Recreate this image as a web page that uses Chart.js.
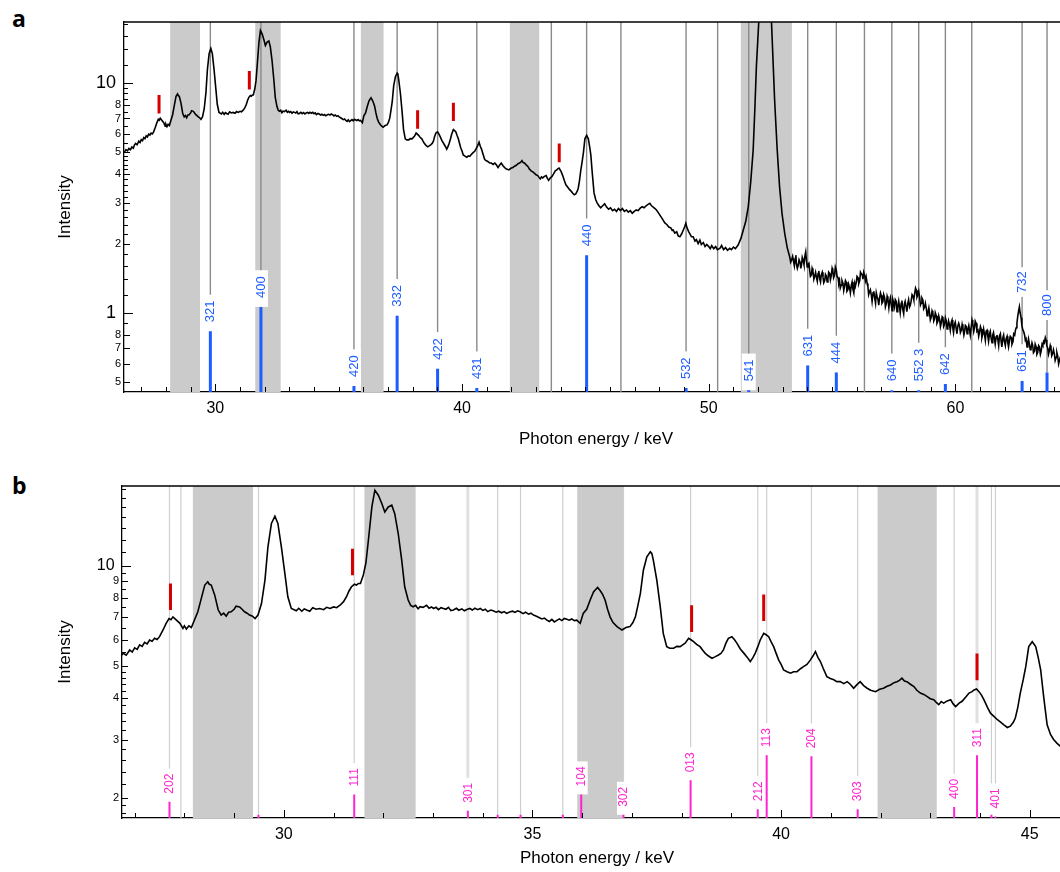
<!DOCTYPE html>
<html>
<head>
<meta charset="utf-8">
<script src="https://cdn.jsdelivr.net/npm/chart.js@4.4.0/dist/chart.umd.min.js"></script>
<style>
  html, body { margin: 0; padding: 0; background: #fff; overflow: hidden; width: 1060px; height: 872px; }
  .wrap { position: absolute; left: 0; width: 1075px; }
  .tag { position: absolute; left: 12px; font: bold 23px "Open Sans", sans-serif; line-height: 1; }
</style>
</head>
<body>
<div class="tag" style="top:7px">a</div>
<div class="tag" style="top:474px">b</div>
<div class="wrap" style="top:0"><canvas id="chartA" width="1075" height="460"></canvas></div>
<div class="wrap" style="top:460px"><canvas id="chartB" width="1075" height="412"></canvas></div>
<script>
const FONT = '"Liberation Sans", Arial, sans-serif';
const BLUE = '#1d5cff';
const MAGENTA = '#ff24cf';

// measured spectrum (keV, intensity)
const energy = [
  26.32, 26.38, 26.44, 26.50, 26.56, 26.62, 26.68, 26.72, 26.77, 26.83,
  26.90, 26.95, 27.00, 27.05, 27.10, 27.15, 27.20, 27.25, 27.30, 27.35,
  27.40, 27.45, 27.50, 27.57, 27.63, 27.69, 27.73, 27.77, 27.84, 27.91,
  27.97, 28.00, 28.04, 28.09, 28.14, 28.20, 28.27, 28.34, 28.41, 28.47,
  28.50, 28.54, 28.61, 28.68, 28.74, 28.79, 28.84, 28.89, 28.94, 29.00,
  29.04, 29.11, 29.16, 29.21, 29.26, 29.31, 29.37, 29.42, 29.48, 29.55,
  29.62, 29.68, 29.75, 29.82, 29.88, 29.95, 30.02, 30.08, 30.15, 30.25,
  30.30, 30.36, 30.41, 30.46, 30.52, 30.58, 30.65, 30.72, 30.80, 30.86,
  30.93, 31.00, 31.06, 31.13, 31.20, 31.26, 31.31, 31.36, 31.42, 31.46,
  31.50, 31.54, 31.60, 31.65, 31.70, 31.77, 31.83, 31.90, 31.97, 32.03,
  32.10, 32.17, 32.23, 32.30, 32.37, 32.43, 32.50, 32.55, 32.60, 32.65,
  32.70, 32.74, 32.80, 32.87, 32.92, 32.97, 33.01, 33.06, 33.11, 33.16,
  33.21, 33.26, 33.31, 33.36, 33.41, 33.47, 33.52, 33.58, 33.63, 33.68,
  33.74, 33.79, 33.84, 33.90, 33.95, 34.00, 34.05, 34.10, 34.16, 34.21,
  34.27, 34.32, 34.38, 34.43, 34.48, 34.54, 34.60, 34.65, 34.70, 34.75,
  34.81, 34.86, 34.92, 34.97, 35.02, 35.08, 35.14, 35.19, 35.24, 35.29,
  35.34, 35.39, 35.44, 35.49, 35.54, 35.59, 35.64, 35.69, 35.74, 35.79,
  35.84, 35.89, 35.96, 36.02, 36.09, 36.16, 36.23, 36.31, 36.36, 36.41,
  36.46, 36.51, 36.56, 36.62, 36.70, 36.75, 36.80, 36.88, 36.96, 37.02,
  37.07, 37.12, 37.17, 37.23, 37.30, 37.37, 37.40, 37.43, 37.50, 37.57,
  37.63, 37.70, 37.76, 37.84, 37.90, 37.97, 38.02, 38.07, 38.14, 38.18,
  38.24, 38.30, 38.37, 38.42, 38.47, 38.54, 38.61, 38.67, 38.74, 38.79,
  38.84, 38.89, 38.94, 39.01, 39.06, 39.11, 39.18, 39.25, 39.32, 39.38,
  39.43, 39.48, 39.53, 39.58, 39.65, 39.70, 39.75, 39.80, 39.85, 39.90,
  39.95, 40.00, 40.05, 40.12, 40.19, 40.25, 40.32, 40.39, 40.45, 40.52,
  40.59, 40.64, 40.69, 40.74, 40.79, 40.85, 40.92, 40.99, 41.06, 41.12,
  41.19, 41.26, 41.33, 41.39, 41.46, 41.52, 41.59, 41.66, 41.73, 41.80,
  41.90, 41.98, 42.06, 42.13, 42.20, 42.27, 42.33, 42.38, 42.43, 42.48,
  42.53, 42.60, 42.67, 42.73, 42.80, 42.87, 42.94, 43.00, 43.07, 43.12,
  43.17, 43.22, 43.27, 43.34, 43.41, 43.46, 43.51, 43.58, 43.64, 43.71,
  43.78, 43.84, 43.88, 43.93, 43.98, 44.03, 44.08, 44.15, 44.21, 44.28,
  44.35, 44.42, 44.48, 44.55, 44.61, 44.67, 44.71, 44.76, 44.81, 44.87,
  44.92, 44.98, 45.05, 45.12, 45.17, 45.22, 45.28, 45.35, 45.42, 45.48,
  45.55, 45.62, 45.70, 45.78, 45.86, 45.94, 46.02, 46.10, 46.18, 46.26,
  46.34, 46.42, 46.50, 46.58, 46.66, 46.74, 46.82, 46.90, 46.98, 47.06,
  47.14, 47.22, 47.30, 47.38, 47.46, 47.54, 47.61, 47.68, 47.75, 47.82,
  47.88, 47.96, 48.04, 48.10, 48.15, 48.22, 48.30, 48.38, 48.46, 48.52,
  48.56, 48.62, 48.70, 48.76, 48.83, 48.90, 48.96, 49.02, 49.07, 49.12,
  49.18, 49.23, 49.30, 49.37, 49.44, 49.50, 49.57, 49.64, 49.70, 49.78,
  49.85, 49.92, 50.00, 50.06, 50.12, 50.20, 50.28, 50.35, 50.45, 50.52,
  50.60, 50.68, 50.76, 50.85, 50.92, 51.00, 51.08, 51.19, 51.30, 51.40,
  51.50, 51.60, 51.70, 51.80, 51.87, 51.93, 52.03, 52.15, 52.27, 52.40,
  52.54, 52.67, 52.77, 52.87, 52.97, 53.08, 53.18,
  53.28, 53.32, 53.36, 53.40, 53.44, 53.47, 53.50, 53.53, 53.55, 53.59,
  53.62, 53.66, 53.70, 53.73, 53.76, 53.79, 53.82, 53.86, 53.89, 53.93,
  53.96, 53.99, 54.02, 54.06, 54.09, 54.12, 54.16, 54.19, 54.22, 54.26,
  54.29, 54.33, 54.36, 54.40, 54.43, 54.46, 54.50, 54.53, 54.56, 54.60,
  54.63, 54.66, 54.70, 54.73, 54.76, 54.80, 54.83, 54.86, 54.90, 54.93,
  54.96, 55.00, 55.03, 55.06, 55.10, 55.13, 55.17, 55.20, 55.24, 55.27,
  55.30, 55.33, 55.37, 55.40, 55.44, 55.47, 55.50, 55.54, 55.57, 55.60,
  55.64, 55.67, 55.71, 55.74, 55.78, 55.81, 55.84, 55.88, 55.91, 55.94,
  55.98, 56.01, 56.05, 56.08, 56.12, 56.15, 56.18, 56.22, 56.25, 56.28,
  56.32, 56.35, 56.38, 56.42, 56.45, 56.48, 56.52, 56.55, 56.59, 56.62,
  56.66, 56.69, 56.72, 56.76, 56.79, 56.82, 56.86, 56.89, 56.92, 56.96,
  56.99, 57.02, 57.06, 57.09, 57.13, 57.16, 57.20, 57.23, 57.26, 57.30,
  57.33, 57.36, 57.40, 57.43, 57.46, 57.50, 57.53, 57.56, 57.60, 57.63,
  57.66, 57.70, 57.73, 57.76, 57.80, 57.83, 57.86, 57.90, 57.93, 57.96,
  58.00, 58.03, 58.07, 58.10, 58.14, 58.17, 58.20, 58.24, 58.28, 58.31,
  58.35, 58.38, 58.41, 58.44, 58.48, 58.51, 58.55, 58.58, 58.61, 58.64,
  58.68, 58.71, 58.75, 58.78, 58.82, 58.85, 58.88, 58.92, 58.95, 58.98,
  59.02, 59.05, 59.08, 59.12, 59.15, 59.18, 59.22, 59.25, 59.29, 59.32,
  59.36, 59.39, 59.42, 59.46, 59.49, 59.52, 59.56, 59.59, 59.63, 59.66,
  59.69, 59.72, 59.76, 59.79, 59.83, 59.86, 59.89, 59.92, 59.96, 59.99,
  60.03, 60.06, 60.10, 60.13, 60.17, 60.20, 60.24, 60.27, 60.30, 60.34,
  60.37, 60.40, 60.44, 60.47, 60.50, 60.54, 60.57, 60.60, 60.64, 60.67,
  60.70, 60.74, 60.77, 60.80, 60.84, 60.87, 60.91, 60.94, 60.97, 61.01,
  61.04, 61.07, 61.11, 61.14, 61.18, 61.21, 61.24, 61.28, 61.31, 61.34,
  61.38, 61.41, 61.44, 61.48, 61.51, 61.54, 61.58, 61.61, 61.65, 61.68,
  61.72, 61.75, 61.78, 61.82, 61.85, 61.88, 61.92, 61.95, 61.98, 62.02,
  62.05, 62.09, 62.12, 62.15, 62.19, 62.22, 62.26, 62.29, 62.33, 62.36,
  62.40, 62.43, 62.46, 62.49, 62.52, 62.56, 62.59, 62.62, 62.66, 62.69,
  62.73, 62.76, 62.80, 62.83, 62.86, 62.90, 62.93, 62.96, 62.99, 63.03,
  63.06, 63.10, 63.13, 63.16, 63.20, 63.23, 63.27, 63.30, 63.33, 63.37,
  63.40, 63.44, 63.47, 63.51, 63.54, 63.57, 63.60, 63.64, 63.67, 63.70,
  63.74, 63.77, 63.80, 63.84, 63.87, 63.90, 63.94, 63.97, 64.01, 64.04,
  64.08, 64.11, 64.14, 64.18, 64.21, 64.25, 64.28, 64.32, 64.35, 64.39,
  64.42, 64.46, 64.50, 64.55, 64.60
];
const intensity = [
  5.00, 5.12, 5.06, 5.18, 5.12, 5.26, 5.20, 5.36, 5.45, 5.38,
  5.58, 5.50, 5.66, 5.60, 5.78, 5.72, 5.88, 5.82, 5.98, 5.93,
  6.05, 6.00, 6.12, 6.41, 6.70, 6.94, 6.88, 7.02, 6.86, 6.71,
  6.48, 6.60, 6.45, 6.60, 6.52, 6.86, 7.27, 7.98, 8.75, 8.95,
  8.80, 8.75, 8.16, 7.36, 7.11, 7.20, 7.05, 7.25, 7.27, 7.40,
  7.56, 7.52, 7.40, 7.27, 7.20, 7.11, 7.05, 6.94, 7.11, 7.70,
  9.06, 11.41, 13.41, 14.11, 13.41, 11.41, 9.49, 8.07, 7.44, 7.32,
  7.45, 7.30, 7.42, 7.36, 7.30, 7.48, 7.40, 7.44, 7.38, 7.50,
  7.44, 7.52, 7.48, 7.61, 7.80, 8.07, 8.40, 8.65, 8.80, 8.75,
  8.85, 8.85, 9.40, 10.2, 11.94, 15.04, 16.89, 16.31, 15.40, 14.53,
  15.04, 15.22, 14.36, 12.51, 10.40, 8.65, 7.89, 7.60, 7.53, 7.60,
  7.42, 7.53, 7.50, 7.61, 7.45, 7.52, 7.44, 7.50, 7.38, 7.48,
  7.44, 7.40, 7.50, 7.33, 7.36, 7.45, 7.35, 7.42, 7.32, 7.39,
  7.44, 7.36, 7.45, 7.38, 7.44, 7.34, 7.40, 7.28, 7.36, 7.32,
  7.25, 7.30, 7.22, 7.28, 7.19, 7.26, 7.30, 7.24, 7.32, 7.27,
  7.18, 7.25, 7.15, 7.20, 7.11, 7.05, 6.98, 6.92, 6.96, 6.86,
  6.80, 6.90, 6.78, 6.85, 6.92, 6.84, 6.94, 6.90, 6.86, 6.92,
  6.84, 6.86, 6.71, 7.19, 7.40, 7.89, 8.36, 8.61, 8.43, 8.20,
  7.89, 7.40, 7.02, 6.75, 6.56, 6.48, 6.41, 6.52, 6.56, 6.75,
  7.02, 7.60, 8.26, 9.70, 10.64, 11.02, 10.90, 10.40, 9.06, 7.52,
  6.26, 5.71, 5.65, 5.65, 5.72, 5.71, 5.78, 5.85, 6.05, 6.00,
  5.91, 5.80, 5.71, 5.58, 5.46, 5.35, 5.27, 5.32, 5.39, 5.45,
  5.58, 5.85, 6.05, 6.12, 6.00, 5.85, 5.62, 5.46, 5.30, 5.15,
  5.28, 5.46, 5.70, 5.98, 6.26, 6.20, 6.12, 5.90, 5.71, 5.45,
  5.21, 5.05, 4.86, 4.80, 4.75, 4.80, 4.80, 4.90, 4.97, 5.05,
  5.21, 5.35, 5.52, 5.30, 5.15, 4.90, 4.64, 4.58, 4.54, 4.48,
  4.48, 4.42, 4.48, 4.40, 4.28, 4.38, 4.48, 4.36, 4.28, 4.22,
  4.18, 4.25, 4.28, 4.34, 4.38, 4.45, 4.48, 4.52, 4.59, 4.50,
  4.48, 4.40, 4.33, 4.22, 4.14, 4.10, 4.04, 3.98, 3.95, 3.88,
  3.82, 3.90, 3.86, 3.92, 3.95, 3.84, 3.77, 3.86, 3.91, 4.02,
  4.14, 4.18, 4.23, 4.26, 4.18, 4.08, 3.95, 3.75, 3.60, 3.52,
  3.44, 3.38, 3.32, 3.26, 3.29, 3.38, 3.48, 3.75, 4.14, 4.55,
  4.97, 5.71, 5.91, 5.71, 5.30, 4.86, 4.04, 3.32, 3.10, 3.00,
  2.92, 2.86, 2.92, 2.98, 2.88, 2.82, 2.86, 2.78, 2.82, 2.76,
  2.84, 2.78, 2.84, 2.76, 2.80, 2.74, 2.78, 2.71, 2.76, 2.80,
  2.78, 2.85, 2.89, 2.86, 2.92, 2.96, 2.99, 2.92, 2.88, 2.84,
  2.80, 2.72, 2.64, 2.58, 2.53, 2.46, 2.42, 2.36, 2.34, 2.28,
  2.29, 2.22, 2.25, 2.16, 2.14, 2.20, 2.28, 2.36, 2.45, 2.34,
  2.26, 2.21, 2.14, 2.14, 2.05, 2.08, 2.00, 2.07, 1.98, 2.02,
  1.94, 1.98, 1.94, 1.90, 1.96, 1.90, 1.94, 1.88, 1.905, 1.96,
  1.88, 1.92, 1.87, 1.905, 1.88, 1.93, 1.90, 1.97, 2.10, 2.29,
  2.50, 2.89, 3.70, 5.10, 7.80, 11.74, 18.7, 30, 36, 30,
  18.7, 8.41, 5.20, 3.53, 2.70, 2.21, 1.92,
  1.75, 1.66, 1.70, 1.76, 1.66, 1.60, 1.72, 1.78, 1.64, 1.56,
  1.60, 1.70, 1.66, 1.56, 1.62, 1.74, 1.70, 1.62, 1.75, 1.84,
  1.68, 1.58, 1.62, 1.64, 1.53, 1.44, 1.46, 1.56, 1.52, 1.40,
  1.44, 1.50, 1.43, 1.37, 1.48, 1.52, 1.40, 1.36, 1.46, 1.50,
  1.43, 1.35, 1.38, 1.47, 1.45, 1.36, 1.40, 1.50, 1.48, 1.39,
  1.44, 1.56, 1.52, 1.42, 1.46, 1.58, 1.53, 1.44, 1.42, 1.34,
  1.38, 1.28, 1.32, 1.38, 1.34, 1.25, 1.30, 1.38, 1.36, 1.24,
  1.26, 1.33, 1.28, 1.22, 1.32, 1.36, 1.27, 1.22, 1.34, 1.30,
  1.36, 1.44, 1.42, 1.34, 1.38, 1.50, 1.48, 1.46, 1.40, 1.50,
  1.45, 1.38, 1.43, 1.34, 1.30, 1.20, 1.24, 1.26, 1.19, 1.12,
  1.22, 1.24, 1.17, 1.10, 1.22, 1.18, 1.14, 1.08, 1.155, 1.22,
  1.19, 1.10, 1.12, 1.20, 1.16, 1.06, 1.10, 1.18, 1.15, 1.05,
  1.12, 1.16, 1.08, 1.02, 1.14, 1.10, 1.06, 1.14, 1.12, 1.01,
  1.05, 1.12, 1.06, 1.00, 1.10, 1.13, 1.04, 0.99, 1.09, 1.12,
  1.06, 1.01, 1.10, 1.14, 1.06, 1.08, 1.12, 1.20, 1.18, 1.14,
  1.22, 1.28, 1.255, 1.17, 1.20, 1.24, 1.16, 1.08, 1.10, 1.16,
  1.135, 1.04, 1.06, 1.10, 1.04, 0.97, 1.00, 1.05, 0.994, 0.93,
  0.96, 1.02, 1.00, 0.92, 0.94, 1.00, 0.97, 0.90, 0.92, 0.97,
  0.93, 0.87, 0.90, 0.96, 0.95, 0.87, 0.89, 0.95, 0.92, 0.85,
  0.87, 0.92, 0.884, 0.84, 0.91, 0.93, 0.86, 0.82, 0.89, 0.91,
  0.85, 0.81, 0.88, 0.90, 0.87, 0.82, 0.84, 0.89, 0.86, 0.80,
  0.83, 0.88, 0.87, 0.81, 0.84, 0.88, 0.841, 0.80, 0.87, 0.93,
  0.899, 0.83, 0.86, 0.92, 0.899, 0.83, 0.84, 0.79, 0.82, 0.87,
  0.85, 0.78, 0.814, 0.85, 0.80, 0.76, 0.83, 0.84, 0.79, 0.75,
  0.81, 0.83, 0.78, 0.74, 0.80, 0.82, 0.77, 0.73, 0.786, 0.80,
  0.76, 0.72, 0.79, 0.81, 0.75, 0.71, 0.78, 0.80, 0.75, 0.72,
  0.77, 0.79, 0.74, 0.71, 0.761, 0.79, 0.78, 0.73, 0.75, 0.81,
  0.80, 0.84, 0.86, 0.90, 0.96, 1.02, 1.06, 1.00, 0.95, 0.88,
  0.841, 0.83, 0.80, 0.76, 0.77, 0.71, 0.74, 0.77, 0.736, 0.69,
  0.70, 0.74, 0.72, 0.67, 0.68, 0.73, 0.71, 0.66, 0.67, 0.72,
  0.711, 0.66, 0.68, 0.73, 0.72, 0.75, 0.74, 0.78, 0.761, 0.72,
  0.70, 0.66, 0.68, 0.72, 0.70, 0.65, 0.666, 0.69, 0.66, 0.62,
  0.64, 0.67, 0.65, 0.60, 0.62, 0.64, 0.61, 0.59, 0.63, 0.65,
  0.60, 0.58, 0.62, 0.59, 0.60
];

// shaded energy windows (keV)
const bands = [[28.17, 29.38], [31.62, 32.65], [35.90, 36.82], [41.94, 43.13], [51.30, 53.37]];

// red markers: energy, lower / upper intensity
const markE = [27.72, 31.38, 38.20, 39.65, 43.94];
const markLo = [7.36, 9.36, 6.32, 6.82, 4.52];
const markHi = [8.85, 11.25, 7.61, 8.20, 5.45];

// panel a reflections
const hklA = ['321', '400', '420', '332', '422', '431', '440', '532', '541', '631', '444', '640', '552 3', '642', '651', '732', '800'];
const posA = [29.80, 31.85, 35.62, 37.37, 39.01, 40.60, 45.05, 49.08, 51.62, 54.01, 55.17, 57.42, 58.51, 59.59, 62.70, 62.70, 63.71];
const barA = [0.83, 1.06, 0.48, 0.97, 0.57, 0.47, 1.78, 0.47, 0.46, 0.59, 0.55, 0.46, 0.46, 0.49, 0.505, 0.505, 0.55];
const labelAtA = [null, null, null, null, null, null, null, null, null, null, null, null, null, null, null, 1.22, 0.968];
const plainA = [43.62, 46.44, 50.36, 56.31, 60.66];

// panel b reflections
const hklB = ['202', '111', '301', '104', '302', '013', '212', '113', '204', '303', '400', '311', '401'];
const posB = [27.70, 31.415, 33.70, 35.98, 36.83, 38.18, 39.53, 39.71, 40.61, 41.54, 43.48, 43.94, 44.31];
const barB = [1.95, 2.05, 1.83, 2.05, 1.78, 2.26, 1.85, 2.69, 2.67, 1.85, 1.88, 2.69, 1.76];
const thickB = ['301', '311'];
const plainB = [27.93, 29.49, 34.30, 34.76, 35.61, 44.23];
const stubB = [29.49, 34.30, 34.76, 35.61, 44.23];
const stubValB = 1.78;

// ticks
const xTicksA = [27, 28, 29, 30, 31, 32, 33, 34, 35, 36, 37, 38, 39, 40, 41, 42, 43, 44, 45, 46,
  47, 48, 49, 50, 51, 52, 53, 54, 55, 56, 57, 58, 59, 60, 61, 62, 63, 64];
const xTicksB = [27, 28, 29, 30, 31, 32, 33, 34, 35, 36, 37, 38, 39, 40, 41, 42, 43, 44, 45];
const yTicksA = [0.5, 0.6, 0.7, 0.8, 0.9, 1, 1.2, 1.4, 1.6, 1.8, 2, 2.2, 2.4, 2.6, 2.8, 3, 3.2, 3.4, 3.6, 3.8,
  4, 4.2, 4.4, 4.6, 4.8, 5, 5.5, 6, 6.5, 7, 7.5, 8, 8.5, 9, 9.5, 10, 12, 14, 16, 18];
const yLabValA = [0.5, 0.6, 0.7, 0.8, 1, 2, 3, 4, 5, 6, 7, 8, 10];
const yLabTxtA = ['5', '6', '7', '8', '1', '2', '3', '4', '5', '6', '7', '8', '10'];
const yTicksB = [1.8, 1.9, 2, 2.2, 2.4, 2.6, 2.8, 3, 3.2, 3.4, 3.6, 3.8, 4, 4.2, 4.4, 4.6, 4.8,
  5, 5.5, 6, 6.5, 7, 7.5, 8, 8.5, 9, 9.5, 10, 11, 12, 13, 14, 15, 16, 17];
const yLabValB = [2, 3, 4, 5, 6, 7, 8, 9, 10];
const yLabTxtB = ['2', '3', '4', '5', '6', '7', '8', '9', '10'];

function segs(xs, lo, hi) {
  const out = [];
  xs.forEach((x, i) => {
    out.push({ x, y: Array.isArray(lo) ? lo[i] : lo });
    out.push({ x, y: Array.isArray(hi) ? hi[i] : hi });
    out.push({ x, y: null });
  });
  return out;
}

function decor(o) {
  return {
    id: 'decor',
    beforeDatasetsDraw(chart) {
      const { ctx, chartArea: a, scales: { x } } = chart;
      ctx.save();
      ctx.fillStyle = '#cbcbcb';
      bands.forEach(([b0, b1]) => {
        const x0 = x.getPixelForValue(b0), x1 = x.getPixelForValue(b1);
        ctx.fillRect(x0, a.top, x1 - x0, a.bottom - a.top);
      });
      ctx.restore();
    },
    afterDatasetDraw(chart, args) {
      if (args.index !== 3) return;
      const { ctx, scales: { x, y } } = chart;
      ctx.font = o.labelSize + 'px ' + FONT;
      o.hkl.forEach((t, i) => {
        const px = x.getPixelForValue(o.pos[i]);
        const barTop = y.getPixelForValue(o.bar[i]);
        const w = ctx.measureText(t).width;
        const at = o.labelAt ? o.labelAt[i] : null;
        let bottom, boxTop, boxBottom;
        if (at != null) {
          bottom = y.getPixelForValue(at);
          boxTop = bottom - w - 4;
          boxBottom = bottom + 4;
        } else {
          bottom = barTop - o.gapBelow;
          boxTop = bottom - w - o.gapAbove;
          boxBottom = barTop;
        }
        ctx.save();
        ctx.fillStyle = '#fff';
        ctx.fillRect(px - o.boxW / 2, boxTop, o.boxW, boxBottom - boxTop);
        ctx.fillStyle = o.color;
        ctx.translate(px + 0.5, bottom);
        ctx.rotate(-Math.PI / 2);
        ctx.textAlign = 'left';
        ctx.textBaseline = 'middle';
        ctx.fillText(t, 0, 0);
        ctx.restore();
      });
    },
    afterDraw(chart) {
      const { ctx, chartArea: a, scales: { x, y } } = chart;
      ctx.save();
      ctx.strokeStyle = '#000';
      ctx.lineWidth = 1;
      ctx.beginPath();
      x.ticks.forEach(t => {
        const px = Math.round(x.getPixelForValue(t.value)) + 0.5;
        const len = t.value % o.xStep === 0 ? 8 : 5;
        ctx.moveTo(px, a.bottom);
        ctx.lineTo(px, a.bottom - len);
      });
      y.ticks.forEach(t => {
        const py = Math.round(y.getPixelForValue(t.value)) + 0.5;
        let len = 4;
        if (o.yMajor.includes(t.value)) len = 9;
        else if (o.yLabVal.includes(t.value)) len = 6;
        ctx.moveTo(a.left, py);
        ctx.lineTo(a.left + len, py);
      });
      ctx.stroke();
      ctx.lineWidth = 1.3;
      ctx.beginPath();
      ctx.moveTo(a.left, a.top);
      ctx.lineTo(a.right, a.top);
      ctx.stroke();
      ctx.restore();
    }
  };
}

function build(id, o) {
  const thinE = [], thinLo = [], thickE = [], thickLo = [];
  o.hkl.forEach((t, i) => {
    if (o.thick.includes(t)) { thickE.push(o.pos[i]); thickLo.push(o.bar[i]); }
    else { thinE.push(o.pos[i]); thinLo.push(o.bar[i]); }
  });
  o.plain.forEach(e => { thinE.push(e); thinLo.push(o.yMin); });
  const barE = o.pos.concat(o.stubs);
  const barV = o.bar.concat(o.stubs.map(() => o.stubVal));

  return new Chart(document.getElementById(id), {
    type: 'line',
    data: {
      datasets: [
        { data: energy.map((e, i) => ({ x: e, y: intensity[i] })), borderColor: '#000', borderWidth: 1.6, pointRadius: 0, order: 0 },
        { data: segs(markE, markLo, markHi), borderColor: '#d40000', borderWidth: 3, pointRadius: 0, order: 1 },
        { data: segs(barE, o.yMin, barV), borderColor: o.color, borderWidth: o.barW, pointRadius: 0, order: 2 },
        { data: segs(thinE, o.yMax, thinLo), borderColor: o.lineColor, borderWidth: o.lineW, pointRadius: 0, order: 3 },
        { data: segs(thickE, o.yMax, thickLo), borderColor: '#e0e0e0', borderWidth: 3, pointRadius: 0, order: 4 }
      ]
    },
    options: {
      responsive: false,
      animation: false,
      events: [],
      layout: { padding: o.pad },
      plugins: { legend: { display: false }, tooltip: { enabled: false } },
      scales: {
        x: {
          type: 'linear', min: o.xMin, max: o.xMax,
          afterBuildTicks: s => { s.ticks = o.xTicks.map(v => ({ value: v })); },
          afterFit: s => { s.height = o.xH; },
          grid: { display: false, drawTicks: false },
          border: { display: true, color: '#000', width: 1.3 },
          ticks: {
            autoSkip: false, maxRotation: 0, padding: 7, color: '#000',
            font: { family: FONT, size: 16 },
            callback: v => (v % o.xStep === 0 ? String(v) : '')
          },
          title: {
            display: true, text: 'Photon energy / keV', color: '#000',
            font: { family: FONT, size: 17 }, padding: { top: 0, bottom: o.xTitlePad }
          }
        },
        y: {
          type: 'logarithmic', min: o.yMin, max: o.yMax,
          afterBuildTicks: s => { s.ticks = o.yTicks.map(v => ({ value: v })); },
          afterFit: s => { s.width = o.yW; },
          grid: { display: false, drawTicks: false },
          border: { display: true, color: '#000', width: 1.3 },
          ticks: {
            autoSkip: false, padding: 3, color: '#000',
            font: c => ({ family: FONT, size: (c.tick && o.yMajor.includes(c.tick.value)) ? o.yMajorSize : 11 }),
            callback: v => {
              const k = o.yLabVal.indexOf(v);
              if (k < 0) return '';
              return o.yMajor.includes(v) ? o.yLabTxt[k] + ' ' : o.yLabTxt[k];
            }
          },
          title: {
            display: true, text: 'Intensity', color: '#000',
            font: { family: FONT, size: 17 }, padding: { top: 55, bottom: 0 }
          }
        }
      }
    },
    plugins: [decor(o)]
  });
}

build('chartA', {
  xMin: 26.30, xMax: 64.56, yMin: 0.452, yMax: 18.4,
  pad: { top: 22, right: 7, left: 0, bottom: 0 }, yW: 124, xH: 68, xTitlePad: 10,
  xTicks: xTicksA, xStep: 10, yTicks: yTicksA, yLabVal: yLabValA, yLabTxt: yLabTxtA, yMajor: [1, 10], yMajorSize: 18,
  hkl: hklA, pos: posA, bar: barA, labelAt: labelAtA, plain: plainA, stubs: [], stubVal: 0.46, thick: [],
  color: BLUE, barW: 3, lineColor: '#8a8a8a', lineW: 1.4, labelSize: 13, boxW: 14, gapBelow: 9, gapAbove: 6
});

build('chartB', {
  xMin: 26.745, xMax: 45.85, yMin: 1.741, yMax: 17.39,
  pad: { top: 26, right: 3, left: 0, bottom: 0 }, yW: 122, xH: 54, xTitlePad: 3,
  xTicks: xTicksB, xStep: 5, yTicks: yTicksB, yLabVal: yLabValB, yLabTxt: yLabTxtB, yMajor: [10], yMajorSize: 16,
  hkl: hklB, pos: posB, bar: barB, labelAt: null, plain: plainB, stubs: stubB, stubVal: stubValB, thick: thickB,
  color: MAGENTA, barW: 2, lineColor: '#cfcfcf', lineW: 1.2, labelSize: 12, boxW: 13, gapBelow: 8, gapAbove: 5
});
</script>
</body>
</html>
